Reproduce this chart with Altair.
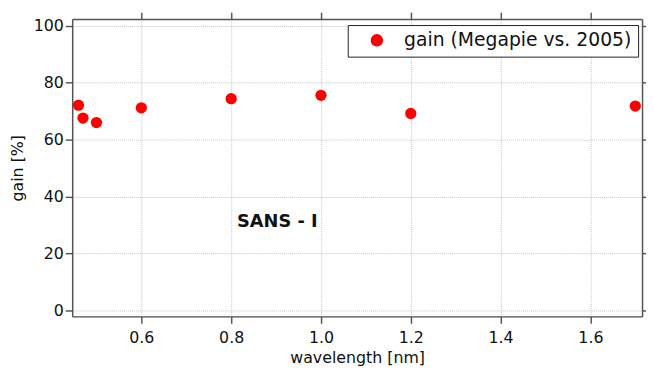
import altair as alt
import pandas as pd

wavelength = [0.46, 0.47, 0.50, 0.60, 0.80, 1.00, 1.20, 1.70]
gain = [72.1, 67.6, 66.0, 71.2, 74.4, 75.6, 69.2, 71.8]
series = "gain (Megapie vs. 2005)"
x_ticks = [0.6, 0.8, 1.0, 1.2, 1.4, 1.6]
y_ticks = [0, 20, 40, 60, 80, 100]
note_x = [0.813]
note_y = [31.0]
note_text = ["SANS - I"]

df = pd.DataFrame({"wavelength": wavelength, "gain": gain, "series": [series] * len(gain)})
note = pd.DataFrame({"wavelength": note_x, "gain": note_y, "t": note_text})

FONT = "DejaVu Sans"
xscale = alt.Scale(domain=[0.446, 1.715], nice=False, zero=False)
yscale = alt.Scale(domain=[-2.2, 102.4], nice=False, zero=False)
base_axis = dict(domainColor="#555555", domainWidth=1.5, tickColor="#555555", tickWidth=1.5,
                 tickSize=7, labelFont=FONT, labelFontSize=16, labelColor="#111111",
                 titleFont=FONT, titleFontSize=16, titleColor="#111111", titleFontWeight="normal")
grid_axis = dict(base_axis, gridColor="#c4c4c4", gridDash=[1, 1], gridWidth=1)

points = alt.Chart(df).mark_point(filled=True, size=130, opacity=1).encode(
    x=alt.X("wavelength:Q", scale=xscale,
            axis=alt.Axis(title="wavelength [nm]", values=x_ticks, format=".1f", labelPadding=6,
                          titlePadding=5, **grid_axis)),
    y=alt.Y("gain:Q", scale=yscale,
            axis=alt.Axis(title="gain [%]", values=y_ticks, labelPadding=2, titlePadding=8,
                          **grid_axis)),
    color=alt.Color("series:N", scale=alt.Scale(range=["#ff0000"]),
                    legend=alt.Legend(title=None, orient="none", legendX=279, legendY=6,
                                      strokeColor="#222222", fillColor="white", padding=6,
                                      symbolOffset=14, labelOffset=18, symbolSize=160,
                                      symbolType="circle", labelFont=FONT, labelFontSize=19,
                                      labelLimit=400, labelColor="#111111", symbolStrokeWidth=0)),
)

mirror = alt.Chart(df).mark_point(opacity=0).encode(
    x=alt.X("wavelength:Q", scale=xscale,
            axis=alt.Axis(orient="top", title=None, labels=False, grid=False, values=x_ticks,
                          **base_axis)),
    y=alt.Y("gain:Q", scale=yscale,
            axis=alt.Axis(orient="right", title=None, labels=False, grid=False, values=y_ticks,
                          **base_axis)),
)

label = alt.Chart(note).mark_text(font=FONT, fontSize=18, fontWeight="bold", align="left",
                                   baseline="middle", color="#111111").encode(
    x=alt.X("wavelength:Q", scale=xscale, axis=None),
    y=alt.Y("gain:Q", scale=yscale, axis=None),
    text="t:N",
)

chart = alt.layer(points, mirror, label).resolve_axis(x="independent", y="independent").properties(
    width=577, height=301, autosize="none",
    padding={"left": 65, "top": 9, "right": 4, "bottom": 50},
).configure_view(stroke=None).configure(background="white")

chart.save("out.html", embed_options={"renderer": "svg", "actions": False})
